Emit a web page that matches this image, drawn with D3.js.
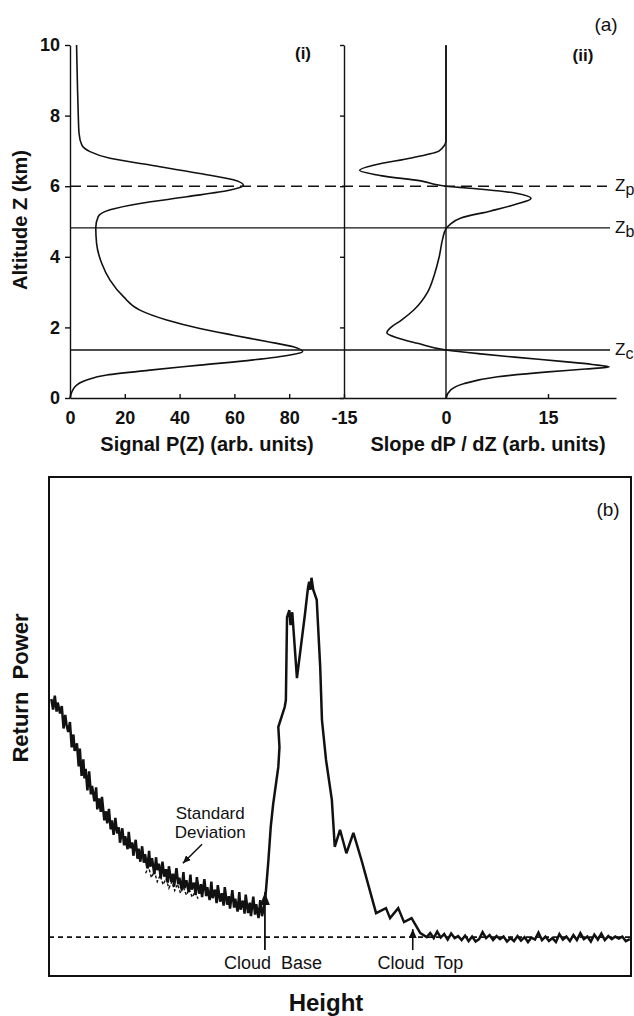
<!DOCTYPE html>
<html>
<head>
<meta charset="utf-8">
<script src="https://cdn.jsdelivr.net/npm/d3@7"></script>
<style>
  html, body { margin: 0; padding: 0; background: #fff; }
  svg { display: block; font-family: "Liberation Sans", Arial, Helvetica, sans-serif; }
</style>
</head>
<body>
<svg id="fig" width="634" height="1016"></svg>
<script>
// ---------- Panel (a)(i): lidar signal P(Z) versus altitude ----------
const signalAltitudeKm = [0, 0.32, 0.51, 0.65, 0.79, 0.93, 1.08, 1.22, 1.31, 1.45, 1.60, 1.78, 1.97, 2.21, 2.49, 2.87, 3.34, 3.81, 4.38, 4.83, 5.14, 5.33, 5.51, 5.70, 5.89, 6.02, 6.18, 6.36, 6.60, 6.79, 6.98, 7.17, 7.50, 8.06, 8.91, 10];
const signalP = [0, 1.8, 6.1, 13.4, 29.2, 47.4, 66.9, 80.3, 84.9, 81.5, 71.8, 59.6, 47.4, 35.3, 25.5, 19.5, 14.6, 11.6, 9.7, 9.4, 10.3, 14.6, 25.5, 42.6, 58.4, 63.3, 59.6, 47.4, 29.2, 14.6, 7.3, 4.3, 3.3, 3.0, 2.7, 2.4];

// ---------- Panel (a)(ii): slope dP/dZ versus altitude ----------
const slopeAltitudeKm = [0, 0.23, 0.41, 0.6, 0.74, 0.82, 0.88, 0.95, 1.03, 1.15, 1.25, 1.36, 1.55, 1.7, 1.85, 2.0, 2.2, 2.5, 3.0, 3.5, 4.0, 4.5, 4.8, 4.9, 5.1, 5.3, 5.5, 5.65, 5.8, 5.9, 5.95, 6.0, 6.15, 6.3, 6.45, 6.6, 6.8, 7.0, 7.3, 10];
const slopeDPdZ = [0, 0.7, 2.7, 7.6, 15.0, 20.5, 24.0, 21.5, 17.4, 10.5, 5.1, 0, -4.2, -7.1, -8.7, -8.1, -6.6, -4.7, -2.7, -1.7, -1.0, -0.5, 0, 0.5, 2.2, 6.6, 10.5, 12.5, 10.3, 6.0, 3.0, 0, -3.7, -9.6, -12.7, -10.5, -5.1, -1.0, 0, 0];

// layer markers: peak (p), boundary (b), cloud base (c)
const markerSubscripts = ["p", "b", "c"];
const markerAltitudes = [6.0, 4.82, 1.36];

const altitudeTicks = [0, 2, 4, 6, 8, 10];
const signalTicks = [0, 20, 40, 60, 80];
const slopeTicks = [-15, 0, 15];

// ---------- Panel (b): return power versus height ----------
const clearAirReturn = [[0.4,55.5],[0.7,53.4],[1.0,56.2],[1.3,53.0],[1.5,54.8],[1.9,52.6],[2.2,54.1],[2.5,49.6],[2.8,52.3],[3.0,50.4],[3.3,48.9],[3.6,50.9],[3.9,45.8],[4.2,48.4],[4.4,45.1],[4.8,46.6],[5.1,42.0],[5.3,45.6],[5.6,40.1],[5.9,43.4],[6.1,39.6],[6.3,41.5],[6.6,37.2],[6.9,41.0],[7.2,36.4],[7.4,38.1],[7.8,35.0],[8.1,37.8],[8.3,33.4],[8.6,35.6],[8.9,32.9],[9.1,35.9],[9.5,31.2],[9.8,33.0],[10.0,30.6],[10.3,33.5],[10.6,29.4],[10.8,31.2],[11.1,28.3],[11.4,31.7],[11.7,28.6],[12.0,29.8],[12.2,26.7],[12.6,29.6],[12.9,26.2],[13.1,28.0],[13.5,25.4],[13.7,28.9],[14.0,25.6],[14.3,26.8],[14.5,24.1],[14.9,27.3],[15.2,23.5],[15.4,25.5],[15.7,22.9],[16.0,26.0],[16.3,22.7],[16.5,24.4],[16.9,21.6],[17.2,25.1],[17.4,21.9],[17.7,23.6],[18.1,20.4],[18.4,23.8],[18.6,21.2],[18.9,22.5],[19.2,19.6],[19.5,22.9],[19.8,19.9],[20.1,21.4],[20.4,18.7],[20.6,22.0],[21.0,18.9],[21.3,20.5],[21.5,17.9],[21.9,21.6],[22.2,18.4],[22.4,19.7],[22.8,17.3],[23.1,20.8],[23.3,17.6],[23.6,19.2],[24.0,16.8],[24.3,20.3],[24.5,17.3],[24.9,18.7],[25.2,16.2],[25.4,19.8],[25.8,16.5],[26.1,18.4],[26.3,15.8],[26.7,19.4],[27.0,16.0],[27.2,17.8],[27.6,15.2],[27.9,18.9],[28.1,15.6],[28.5,17.3],[28.8,14.6],[29.0,18.2],[29.4,14.9],[29.7,16.6],[30.0,14.1],[30.2,17.8],[30.6,14.3],[30.9,16.0],[31.1,13.5],[31.5,17.2],[31.8,13.7],[32.0,15.5],[32.4,12.9],[32.7,16.8],[32.9,13.3],[33.3,15.1],[33.6,12.5],[33.8,16.3],[34.2,12.6],[34.5,14.7],[34.7,12.0],[35.1,15.9],[35.4,12.3],[35.6,14.4],[36.0,11.6],[36.3,15.2],[36.6,12.0],[36.8,13.0]];
const cloudEcho = [[37.2,16.0],[37.7,23.2],[38.1,29.9],[38.5,34.3],[39.4,41.9],[39.6,45.9],[39.4,49.9],[40.5,53.9],[40.7,55.3],[40.9,71.9],[41.3,73.3],[41.5,70.3],[41.8,72.9],[42.6,59.7],[44.0,72.7],[44.3,75.8],[44.5,77.8],[44.7,79.0],[44.9,77.4],[45.1,79.8],[45.4,77.4],[46.0,75.4],[46.6,61.9],[46.9,51.3],[47.6,43.3],[48.6,35.3],[49.1,25.9],[50.0,29.3],[51.1,24.6],[52.3,28.7],[53.7,23.2],[56.2,12.6],[57.9,13.6],[58.6,11.6],[60.0,13.6],[61.0,10.8],[62.3,11.6],[63.8,8.6],[64.9,7.8]];
const aboveCloudNoise = [[65.5,8.6],[66.1,7.6],[66.7,8.9],[67.3,7.7],[67.9,8.4],[68.5,7.3],[69.1,8.5],[69.7,7.6],[70.3,8.0],[70.9,7.2],[71.5,8.1],[72.1,7.0],[72.7,7.9],[73.3,6.9],[73.9,7.4],[74.5,8.8],[75.1,7.6],[75.7,8.2],[76.3,7.2],[76.9,8.0],[77.5,7.4],[78.1,7.9],[78.7,6.9],[79.3,7.6],[79.9,7.0],[80.5,8.0],[81.1,7.1],[81.7,7.8],[82.3,6.8],[82.9,7.7],[83.5,7.3],[84.1,8.7],[84.7,7.2],[85.3,7.9],[85.9,7.0],[86.5,7.6],[87.1,6.8],[87.7,8.4],[88.3,7.3],[88.9,7.9],[89.5,7.0],[90.1,8.2],[90.7,7.2],[91.3,8.6],[91.9,7.4],[92.5,7.9],[93.1,6.9],[93.7,8.3],[94.3,7.3],[94.9,8.5],[95.5,7.2],[96.1,8.0],[96.7,7.4],[97.3,7.9],[97.9,7.5],[98.5,7.9],[99.1,7.0],[99.8,7.4]];
const stdDevTrace = [[16.6,20.6],[17.1,21.9],[17.6,19.7],[18.1,21.0],[18.6,18.9],[19.1,20.2],[19.6,18.3],[20.1,19.5],[20.6,17.6],[21.1,18.9],[21.6,17.1],[22.1,18.4],[22.6,16.6],[23.1,17.8],[23.6,16.2],[24.1,17.4],[24.6,15.8],[25.1,16.9],[25.6,15.5]];
const noiseFloor = 7.8;
const cloudBaseHeight = 37.1;
const cloudTopHeight = 62.5;

// ---------------------------------------------------------------
const ink = "#111";
const FONT = '"Liberation Sans", Arial, Helvetica, sans-serif';
const svg = d3.select("#fig");
svg.append("rect").attr("width", 634).attr("height", 1016).attr("fill", "#fff");

const defs = svg.append("defs");
function arrowMarker(id, w, h) {
  defs.append("marker").attr("id", id)
    .attr("viewBox", `0 ${-w / 2} ${h} ${w}`)
    .attr("refX", h).attr("refY", 0)
    .attr("markerUnits", "userSpaceOnUse")
    .attr("markerWidth", h).attr("markerHeight", w)
    .attr("orient", "auto")
    .append("path").attr("d", `M0,${-w / 2}L${h},0L0,${w / 2}Z`).attr("fill", ink);
}
arrowMarker("headBig", 10, 13);
arrowMarker("headSmall", 8, 9);
arrowMarker("headTiny", 7, 8);

// ================= Panel (a) =================
const z = d3.scaleLinear().domain([0, 10]).range([398, 45]);
const xP = d3.scaleLinear().domain([0, 100]).range([70, 344]);
const xS = d3.scaleLinear().domain([-15, 25]).range([344, 616]);

const pa = svg.append("g");

function styleAxis(g) {
  g.attr("font-family", FONT).attr("font-size", 18).attr("font-weight", "bold");
  g.selectAll("path, line").attr("stroke", ink).attr("stroke-width", 1.4);
  g.selectAll("text").attr("fill", ink);
}

// altitude axis of panel (i)
pa.append("g").attr("transform", `translate(${xP(0)},0)`)
  .call(d3.axisLeft(z).tickValues(altitudeTicks).tickSize(5).tickSizeOuter(0).tickPadding(5))
  .call(styleAxis);

// boundary between the two panels, with ticks only
pa.append("g").attr("transform", `translate(${xS(-15)},0)`)
  .call(d3.axisLeft(z).tickValues(altitudeTicks).tickSize(4).tickSizeOuter(0).tickFormat(""))
  .call(styleAxis);

// zero-slope line of panel (ii)
pa.append("line").attr("x1", xS(0)).attr("x2", xS(0)).attr("y1", z(0)).attr("y2", z(10) + 1)
  .attr("stroke", ink).attr("stroke-width", 1.4);

// horizontal axes
pa.append("g").attr("transform", `translate(0,${z(0)})`)
  .call(d3.axisBottom(xP).tickValues(signalTicks).tickSizeInner(-4).tickSizeOuter(0).tickPadding(13).tickFormat(d => String(d)))
  .call(styleAxis);
pa.append("g").attr("transform", `translate(0,${z(0)})`)
  .call(d3.axisBottom(xS).tickValues(slopeTicks).tickSizeInner(-4).tickSizeOuter(0).tickPadding(13).tickFormat(d => String(d)))
  .call(styleAxis);

// layer marker lines and labels
markerAltitudes.forEach((alt, i) => {
  pa.append("line")
    .attr("x1", xP(0)).attr("x2", i === 0 ? 607 : 610)
    .attr("y1", z(alt)).attr("y2", z(alt))
    .attr("stroke", ink).attr("stroke-width", 1.4)
    .attr("stroke-dasharray", i === 0 ? "11,6" : null);
  const t = pa.append("text").attr("x", 615).attr("y", z(alt) + 5)
    .attr("font-family", FONT).attr("font-size", 17).attr("fill", ink);
  t.append("tspan").text("Z");
  t.append("tspan").attr("dy", 4).attr("font-size", 16).text(markerSubscripts[i]);
});

// signal profile
const signalRows = signalAltitudeKm.map((a, i) => ({ alt: a, v: signalP[i] }));
pa.append("path").datum(signalRows)
  .attr("d", d3.line().x(d => xP(d.v)).y(d => z(d.alt)).curve(d3.curveMonotoneY))
  .attr("fill", "none").attr("stroke", ink).attr("stroke-width", 1.6);

// slope profile
const slopeRows = slopeAltitudeKm.map((a, i) => ({ alt: a, v: slopeDPdZ[i] }));
pa.append("path").datum(slopeRows)
  .attr("d", d3.line().x(d => xS(d.v)).y(d => z(d.alt)).curve(d3.curveMonotoneY))
  .attr("fill", "none").attr("stroke", ink).attr("stroke-width", 1.6);

// titles and labels of panel (a)
function label(g, txt, x, y, size, weight, anchor, rotate) {
  const t = g.append("text").text(txt)
    .attr("font-family", FONT).attr("font-size", size).attr("font-weight", weight)
    .attr("fill", ink).attr("text-anchor", anchor || "middle");
  if (rotate) t.attr("transform", `translate(${x},${y}) rotate(${rotate})`);
  else t.attr("x", x).attr("y", y);
  return t;
}
label(pa, "Altitude Z (km)", 27, 220, 20, "bold", "middle", -90);
label(pa, "Signal P(Z) (arb. units)", (xP(0) + xP(100)) / 2, 451, 20, "bold");
label(pa, "Slope dP / dZ (arb. units)", 488, 451, 20, "bold");
label(pa, "(i)", 303, 59, 17, "bold");
label(pa, "(ii)", 583, 61, 17, "bold");
label(pa, "(a)", 606, 31, 19, "normal");

// ================= Panel (b) =================
const xh = d3.scaleLinear().domain([0, 100]).range([49, 631]);
const yr = d3.scaleLinear().domain([0, 100]).range([976, 477]);
const pb = svg.append("g");

pb.append("rect").attr("x", xh(0)).attr("y", yr(100))
  .attr("width", xh(100) - xh(0)).attr("height", yr(0) - yr(100))
  .attr("fill", "none").attr("stroke", ink).attr("stroke-width", 2);

// noise floor
pb.append("line").attr("x1", xh(0)).attr("x2", xh(100))
  .attr("y1", yr(noiseFloor)).attr("y2", yr(noiseFloor))
  .attr("stroke", ink).attr("stroke-width", 1.6).attr("stroke-dasharray", "5,4");

const traceLine = d3.line().x(d => xh(d[0])).y(d => yr(d[1]));

// standard deviation trace
pb.append("path").datum(stdDevTrace).attr("d", traceLine)
  .attr("fill", "none").attr("stroke", ink).attr("stroke-width", 1.4)
  .attr("stroke-dasharray", "3,2");

// return power profile
const returnProfile = clearAirReturn.concat(cloudEcho, aboveCloudNoise);
pb.append("path").datum(returnProfile).attr("d", traceLine)
  .attr("fill", "none").attr("stroke", ink).attr("stroke-width", 2.5)
  .attr("stroke-linejoin", "miter").attr("stroke-miterlimit", 3);

// cloud base / cloud top arrows
pb.append("line").attr("x1", xh(cloudBaseHeight)).attr("x2", xh(cloudBaseHeight))
  .attr("y1", yr(5.2)).attr("y2", yr(16.8))
  .attr("stroke", ink).attr("stroke-width", 1.8).attr("marker-end", "url(#headBig)");
pb.append("line").attr("x1", xh(cloudTopHeight)).attr("x2", xh(cloudTopHeight))
  .attr("y1", yr(5.2)).attr("y2", yr(9.4))
  .attr("stroke", ink).attr("stroke-width", 1.6).attr("marker-end", "url(#headSmall)");

label(pb, "Cloud  Base", xh(38.5), 969, 18, "normal").attr("xml:space", "preserve");
label(pb, "Cloud  Top", xh(63.8), 969, 18, "normal").attr("xml:space", "preserve");

// standard deviation note with pointer
label(pb, "Standard", xh(27.7), 819, 17, "normal");
label(pb, "Deviation", xh(27.7), 838, 17, "normal");
pb.append("line").attr("x1", xh(26.3)).attr("y1", yr(26.4))
  .attr("x2", xh(23.0)).attr("y2", yr(22.6))
  .attr("stroke", ink).attr("stroke-width", 1.5).attr("marker-end", "url(#headTiny)");

label(pb, "Return  Power", 28, 688, 22, "bold", "middle", -90).attr("xml:space", "preserve");
label(pb, "Height", 326, 1011, 24, "bold");
label(pb, "(b)", 608, 516, 19, "normal");
</script>
</body>
</html>
